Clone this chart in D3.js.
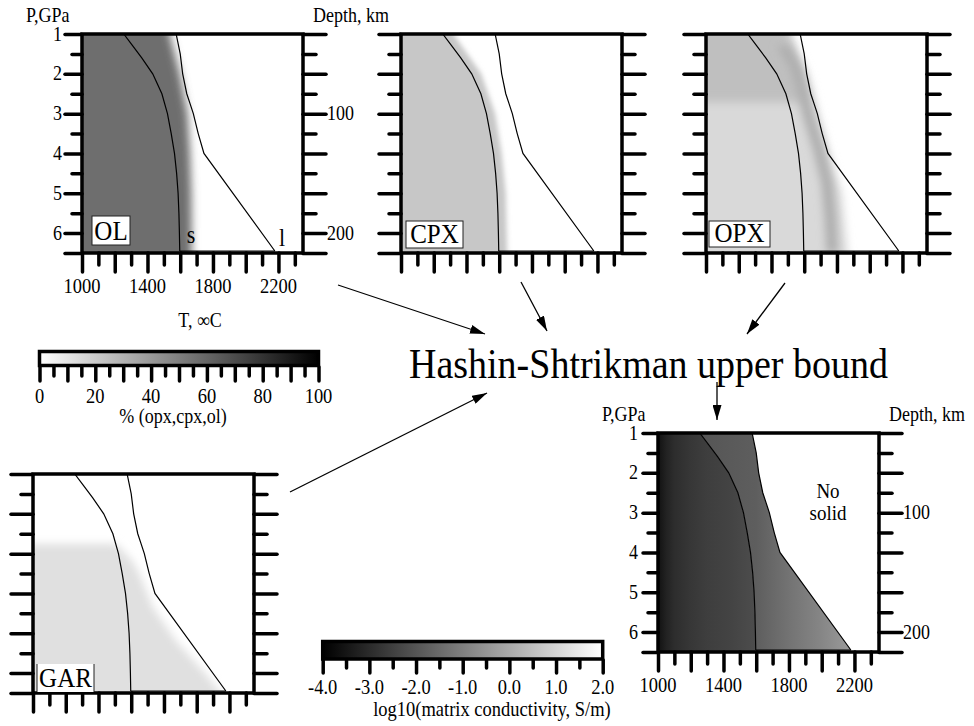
<!DOCTYPE html>
<html>
<head>
<meta charset="utf-8">
<script src="https://cdn.jsdelivr.net/npm/d3@7"></script>
<style>
  body { margin: 0; background: #fff; }
  svg text { font-family: "Liberation Serif", "DejaVu Serif", serif; fill: #000; }
</style>
</head>
<body>
<svg id="fig" width="974" height="726"></svg>
<script>
// phase boundaries, T in C, P in GPa
const solidusP = [1.0, 1.3, 1.6, 2.0, 2.5, 3.0, 3.5, 4.0, 4.5, 5.0, 5.5, 6.0, 6.45];
const solidusT = [1255, 1310, 1365, 1432, 1488, 1522, 1545, 1565, 1578, 1587, 1592, 1595, 1597];
const liquidusP = [1.0, 1.5, 2.0, 2.5, 2.75, 3.0, 3.5, 4.0, 6.45];
const liquidusT = [1575, 1600, 1615, 1640, 1660, 1680, 1710, 1745, 2178];

// mineral fractions (%) and where they fade out
const olP = [1, 2, 3, 4, 5, 6.5];
const olEdgeT = [1535, 1598, 1645, 1660, 1668, 1670];
const olPct = 57;

const cpxP = [1, 2, 3, 4, 5, 6.5];
const cpxEdgeT = [1320, 1490, 1575, 1615, 1640, 1648];
const cpxPct = 22;

const opxP = [1, 2, 3, 4, 5, 6.5];
const opxEdgeT = [1515, 1625, 1690, 1755, 1830, 1865];
const opxPct = 15;
const opxTopP = [1, 1.5, 2, 2.7];
const opxTopT = [1500, 1545, 1580, 1610];
const opxTopPct = 25;
const opxBandP = [1.3, 1.83, 2.25, 3.08, 3.9, 4.75, 5.6, 6.5];
const opxBandT = [1470, 1547, 1578, 1628, 1689, 1740, 1760, 1772];
const opxBandPct = 32;

const garP = [2.75, 3.2, 3.5, 4.33, 5.17, 6.0, 6.5];
const garEdgeT = [1510, 1610, 1650, 1730, 1870, 2050, 2150];
const garPct = 12;

// log10 matrix conductivity along T
const condSubT = [1000, 1050, 1100, 1200, 1300, 1450, 1600];
const condSubV = [-3.6, -3.2, -2.95, -2.7, -2.55, -2.4, -2.2];
const condMeltT = [1250, 1600, 1800, 2000, 2180];
const condMeltV = [-2.0, -1.8, -1.3, -0.85, -0.35];

// ticks
const pMajor = [1, 2, 3, 4, 5, 6, 6.5];
const pMinor = [1.5, 2.5, 3.5, 4.5, 5.5];
const pLabels = [1, 2, 3, 4, 5, 6];
const depthLabels = [[3, "100"], [6, "200"]];
const tMajor = [1000, 1200, 1400, 1600, 1800, 2000, 2200];
const tMinor = [1100, 1300, 1500, 1700, 1900, 2100, 2300];
const tLabels = [1000, 1400, 1800, 2200];
const pctTicks = d3.range(0, 101, 5);
const pctLabels = [0, 20, 40, 60, 80, 100];
const condTicks = d3.range(-4, 2.01, 0.5);
const condLabels = [-4, -3, -2, -1, 0, 1, 2];

const W = 221, H = 219, SY = 1.12;
const FONT = "'Liberation Serif', 'DejaVu Serif', serif";
const svg = d3.select("#fig");
const defs = svg.append("defs");

const pctColor = d3.scaleLinear().domain([0, 100]).range(["#ffffff", "#000000"]);
const condColor = d3.scaleLinear().domain([-4, 2]).range(["#000000", "#ffffff"]);

[["b3", 2.5], ["b4", 4], ["b5", 5]].forEach(([id, s]) => {
  defs.append("filter").attr("id", id)
    .attr("x", "-20%").attr("y", "-20%").attr("width", "140%").attr("height", "140%")
    .append("feGaussianBlur").attr("stdDeviation", s);
});

defs.append("marker").attr("id", "arrow")
  .attr("viewBox", "0 0 15 9").attr("refX", 15).attr("refY", 4.5)
  .attr("markerWidth", 15).attr("markerHeight", 9)
  .attr("markerUnits", "userSpaceOnUse").attr("orient", "auto")
  .append("path").attr("d", "M0,0L15,4.5L0,9Z").attr("fill", "#000");

function txt(g, x, y, s, size, anchor, sy) {
  return g.append("text")
    .attr("transform", `translate(${x},${y}) scale(1,${sy || SY})`)
    .attr("font-family", FONT)
    .style("font-family", FONT)
    .attr("font-size", size)
    .attr("text-anchor", anchor || "start")
    .text(s);
}

const zip = (a, b) => a.map((v, i) => [b[i], v]); // -> [T, P]

function leftRegion(Ps, Ts, pTop, pBot) {
  const pts = zip(Ps, Ts);
  return [[700, pTop], [Ts[0], pTop], ...pts, [Ts[Ts.length - 1], pBot], [700, pBot]];
}

function tickStyle(sel) {
  sel.select(".domain").remove();
  sel.selectAll("line").attr("stroke", "#000").attr("stroke-width", 3.5).attr("stroke-linecap", "round");
}

function hGradient(id, x, Ts, colors) {
  const lg = defs.append("linearGradient").attr("id", id)
    .attr("gradientUnits", "userSpaceOnUse")
    .attr("x1", x(1000)).attr("x2", x(2350)).attr("y1", 0).attr("y2", 0);
  Ts.forEach((t, i) => lg.append("stop").attr("offset", (t - 1000) / 1350).attr("stop-color", colors[i]));
}

const panels = [
  {id: "ol", x0: 82, y0: 34, lt: [17, 10], axisText: true},
  {id: "cpx", x0: 401, y0: 34, lt: [22, 12]},
  {id: "opx", x0: 706, y0: 34, lt: [22, 12]},
  {id: "gar", x0: 33, y0: 474, lt: [22, 12]},
  {id: "cond", x0: 658, y0: 433, lt: [15, 10], axisText: true}
];

function shade(id, body, x, y) {
  const poly = d3.line().x(d => x(d[0])).y(d => y(d[1]));
  const path = (pts, fill, filt) => {
    const e = body.append("path").attr("d", poly(pts) + "Z").attr("fill", fill);
    if (filt) e.attr("filter", `url(#${filt})`);
    return e;
  };
  const sub = leftRegion(solidusP, solidusT, 0, 7.5);
  if (id === "ol") {
    path(leftRegion(olP, olEdgeT, 0, 7.5), pctColor(olPct), "b4");
    path(sub, pctColor(olPct));
  } else if (id === "cpx") {
    path(leftRegion(cpxP, cpxEdgeT, 0, 7.5), pctColor(cpxPct), "b3");
    path(sub, pctColor(cpxPct));
  } else if (id === "opx") {
    path(leftRegion(opxP, opxEdgeT, 0, 7.5), pctColor(opxPct), "b4");
    path(leftRegion(opxTopP, opxTopT, 0, 2.7), pctColor(opxTopPct), "b5");
    const band = zip(opxBandP, opxBandT.map(t => t - 35))
      .concat(zip(opxBandP, opxBandT.map(t => t + 35)).reverse());
    path(band, pctColor(opxBandPct), "b4");
  } else if (id === "gar") {
    path(leftRegion(garP, garEdgeT, 2.75, 7.5), pctColor(garPct), "b4");
  } else if (id === "cond") {
    hGradient("condSub", x, condSubT, condSubV.map(condColor));
    hGradient("condMelt", x, condMeltT, condMeltV.map(condColor));
    path(leftRegion(solidusP, solidusT, 0.5, 7), "url(#condSub)");
    const melt = [[solidusT[0], 0.5], ...zip(solidusP, solidusT), [solidusT[solidusT.length - 1], 7],
      [liquidusT[liquidusT.length - 1], 7], ...zip(liquidusP, liquidusT).reverse(), [liquidusT[0], 0.5]];
    path(melt, "url(#condMelt)");
  }
}

panels.forEach(p => {
  const x = d3.scaleLinear().domain([1000, 2350]).range([p.x0, p.x0 + W]);
  const y = d3.scaleLinear().domain([1, 6.5]).range([p.y0, p.y0 + H]);
  const g = svg.append("g");
  defs.append("clipPath").attr("id", "clip-" + p.id).append("rect")
    .attr("x", p.x0).attr("y", p.y0).attr("width", W).attr("height", H);
  g.append("rect").attr("x", p.x0).attr("y", p.y0).attr("width", W).attr("height", H).attr("fill", "#fff");
  const body = g.append("g").attr("clip-path", `url(#clip-${p.id})`);
  shade(p.id, body, x, y);

  const line = d3.line().x(d => x(d[0])).y(d => y(d[1]));
  body.append("path").attr("d", line(zip(solidusP, solidusT))).attr("fill", "none").attr("stroke", "#000").attr("stroke-width", 1.2);
  body.append("path").attr("d", line(zip(liquidusP, liquidusT))).attr("fill", "none").attr("stroke", "#000").attr("stroke-width", 1.2);
  body.append("path")
    .attr("d", line([[solidusT[solidusT.length - 1], solidusP[solidusP.length - 1]], [liquidusT[liquidusT.length - 1], liquidusP[liquidusP.length - 1]]]))
    .attr("fill", "none").attr("stroke", "#000").attr("stroke-width", 1.2);

  g.append("rect").attr("x", p.x0).attr("y", p.y0).attr("width", W).attr("height", H)
    .attr("fill", "none").attr("stroke", "#000").attr("stroke-width", 3.5);

  g.append("g").attr("transform", `translate(${p.x0},0)`)
    .call(d3.axisLeft(y).tickValues(pMajor).tickSize(p.lt[0]).tickFormat("")).call(tickStyle);
  g.append("g").attr("transform", `translate(${p.x0},0)`)
    .call(d3.axisLeft(y).tickValues(pMinor).tickSize(p.lt[1]).tickFormat("")).call(tickStyle);
  g.append("g").attr("transform", `translate(${p.x0 + W},0)`)
    .call(d3.axisRight(y).tickValues(pMajor).tickSize(23).tickFormat("")).call(tickStyle);
  g.append("g").attr("transform", `translate(${p.x0 + W},0)`)
    .call(d3.axisRight(y).tickValues(pMinor).tickSize(13).tickFormat("")).call(tickStyle);
  g.append("g").attr("transform", `translate(0,${p.y0 + H})`)
    .call(d3.axisBottom(x).tickValues(tMajor).tickSize(19).tickFormat("")).call(tickStyle);
  g.append("g").attr("transform", `translate(0,${p.y0 + H})`)
    .call(d3.axisBottom(x).tickValues(tMinor).tickSize(12).tickFormat("")).call(tickStyle);

  if (p.axisText) {
    pLabels.forEach(v => txt(g, p.x0 - 20, y(v) + 6.5, String(v), 18, "end"));
    depthLabels.forEach(([v, s]) => txt(g, p.x0 + W + 24, y(v) + 6.5, s, 18, "start"));
    tLabels.forEach(v => txt(g, x(v), p.y0 + H + 40, String(v), 18.5, "middle"));
    txt(g, p.x0 - 56, p.y0 - 12, "P,GPa", 18, "start");
    txt(g, p.x0 + 231, p.y0 - 12, "Depth, km", 18, "start");
  }
});

// mineral name boxes
function nameBox(x, yb, w, h, s, open) {
  const g = svg.append("g");
  g.append("rect").attr("x", x).attr("y", yb).attr("width", w).attr("height", h)
    .attr("fill", "#fff").attr("stroke", open ? "none" : "#222").attr("stroke-width", 1);
  if (open) {
    g.append("line").attr("x1", x).attr("x2", x).attr("y1", yb).attr("y2", yb + h).attr("stroke", "#222");
    g.append("line").attr("x1", x + w).attr("x2", x + w).attr("y1", yb).attr("y2", yb + h).attr("stroke", "#222");
  }
  txt(g, x + w / 2, yb + h - 5, s, 25, "middle", 1.12);
}
nameBox(92, 216, 38, 29, "OL");
nameBox(406, 221, 57, 27, "CPX");
nameBox(709, 221, 61, 26, "OPX");
nameBox(37, 664, 57, 28, "GAR", true);

// s / l markers and T axis title on the OL panel
txt(svg, 191, 243, "s", 22, "middle");
txt(svg, 282, 246, "l", 22, "middle");
txt(svg, 200, 327, "T, \u221EC", 18, "middle");

// no-solid label
txt(svg, 828, 498, "No", 19, "middle");
txt(svg, 828, 520, "solid", 19, "middle");

// percent colour bar
{
  const cx = d3.scaleLinear().domain([0, 100]).range([39.5, 318.5]);
  const lg = defs.append("linearGradient").attr("id", "pctBar");
  [0, 100].forEach(v => lg.append("stop").attr("offset", v / 100).attr("stop-color", pctColor(v)));
  const g = svg.append("g");
  g.append("g").attr("transform", "translate(0,367)")
    .call(d3.axisBottom(cx).tickValues(pctTicks.filter(v => v % 10 === 0)).tickSize(14).tickFormat("")).call(tickStyle);
  g.append("g").attr("transform", "translate(0,367)")
    .call(d3.axisBottom(cx).tickValues(pctTicks.filter(v => v % 10 !== 0)).tickSize(9).tickFormat("")).call(tickStyle);
  g.append("rect").attr("x", cx(0)).attr("y", 351.5).attr("width", cx(100) - cx(0)).attr("height", 14)
    .attr("fill", "url(#pctBar)").attr("stroke", "#000").attr("stroke-width", 3.5);
  pctLabels.forEach(v => txt(g, cx(v), 403, String(v), 18.5, "middle"));
  txt(g, 173, 423, "% (opx,cpx,ol)", 18, "middle");
}

// conductivity colour bar
{
  const cx = d3.scaleLinear().domain([-4, 2]).range([322.7, 602.7]);
  const lg = defs.append("linearGradient").attr("id", "condBar");
  [-4, 2].forEach(v => lg.append("stop").attr("offset", (v + 4) / 6).attr("stop-color", condColor(v)));
  const g = svg.append("g");
  g.append("g").attr("transform", "translate(0,660)")
    .call(d3.axisBottom(cx).tickValues(condTicks.filter(v => Number.isInteger(v))).tickSize(13).tickFormat("")).call(tickStyle);
  g.append("g").attr("transform", "translate(0,660)")
    .call(d3.axisBottom(cx).tickValues(condTicks.filter(v => !Number.isInteger(v))).tickSize(8).tickFormat("")).call(tickStyle);
  g.append("rect").attr("x", cx(-4)).attr("y", 641.5).attr("width", cx(2) - cx(-4)).attr("height", 17.5)
    .attr("fill", "url(#condBar)").attr("stroke", "#000").attr("stroke-width", 3.5);
  condLabels.forEach(v => txt(g, cx(v), 694, d3.format(".1f")(v).replace("\u2212", "-"), 18.5, "middle"));
  txt(g, 492, 716, "log10(matrix conductivity, S/m)", 18.5, "middle");
}

// title and arrows
txt(svg, 409, 378, "Hashin-Shtrikman upper bound", 38, "start", 1.12);
const arrows = [[338, 285, 485, 334], [521, 282, 547, 331], [785, 283, 747, 334], [290, 492, 487, 393], [717, 382, 717, 420]];
svg.append("g").selectAll("line").data(arrows).join("line")
  .attr("x1", d => d[0]).attr("y1", d => d[1]).attr("x2", d => d[2]).attr("y2", d => d[3])
  .attr("stroke", "#000").attr("stroke-width", 1.3).attr("marker-end", "url(#arrow)");
</script>
</body>
</html>
